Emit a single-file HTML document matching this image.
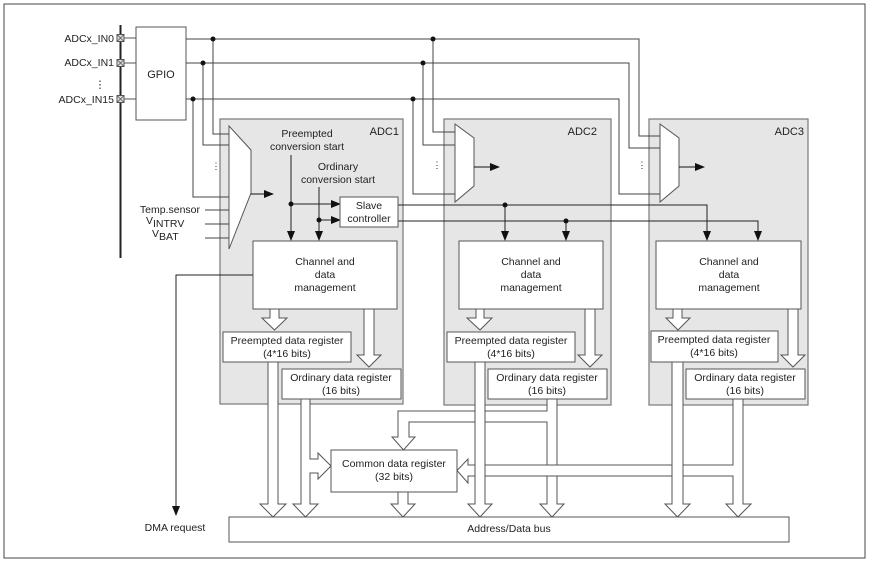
<!DOCTYPE html>
<html><head><meta charset="utf-8"><style>
html,body{margin:0;padding:0;background:#fff;}
svg{display:block;font-family:"Liberation Sans",sans-serif;}
text{font-size:10.5px;fill:#222;}
</style></head><body>
<svg width="869" height="562" viewBox="0 0 869 562" xmlns="http://www.w3.org/2000/svg">
<defs>
<marker id="ar" markerWidth="10" markerHeight="8" refX="9" refY="4" orient="auto" markerUnits="userSpaceOnUse">
<path d="M0,0 L10,4 L0,8 z" fill="#111"/></marker>
</defs>
<rect x="4" y="4" width="861" height="554" fill="#fff" stroke="#444" stroke-width="1"/>

<!-- ADC boxes -->
<g fill="#e6e6e6" stroke="#777" stroke-width="1.2">
<rect x="220" y="119" width="183" height="285"/>
<rect x="444" y="119" width="167" height="286"/>
<rect x="649" y="119" width="159" height="286"/>
</g>
<text x="399" y="135" text-anchor="end" style="font-size:11px">ADC1</text>
<text x="597" y="135" text-anchor="end" style="font-size:11px">ADC2</text>
<text x="804" y="135" text-anchor="end" style="font-size:11px">ADC3</text>

<!-- input bus -->
<line x1="120.5" y1="25" x2="120.5" y2="258" stroke="#222" stroke-width="2"/>
<g stroke="#555" stroke-width="1" fill="#ddd">
<rect x="117" y="34.5" width="7" height="7"/>
<rect x="117" y="59.5" width="7" height="7"/>
<rect x="117" y="95.5" width="7" height="7"/>
</g>
<g stroke="#555" stroke-width="0.8">
<path d="M117,34.5 l7,7 M124,34.5 l-7,7 M117,59.5 l7,7 M124,59.5 l-7,7 M117,95.5 l7,7 M124,95.5 l-7,7"/>
</g>
<text x="114" y="42" text-anchor="end">ADCx_IN0</text>
<text x="114" y="66" text-anchor="end">ADCx_IN1</text>
<text x="100" y="88" text-anchor="middle">⋮</text>
<text x="114" y="103" text-anchor="end">ADCx_IN15</text>
<g stroke="#555" stroke-width="1" fill="none">
<path d="M124,38 H136 M124,63 H136 M124,99 H136"/>
</g>
<rect x="136" y="27" width="50" height="93" fill="#fff" stroke="#555"/>
<text x="161" y="78" text-anchor="middle" style="font-size:11px">GPIO</text>

<!-- input lines -->
<g stroke="#444" stroke-width="1" fill="none">
<path d="M186,39 H639 V136 H660"/>
<path d="M186,63 H629 V148 H660"/>
<path d="M186,99 H619 V194 H660"/>
<path d="M213,39 V134 H229"/>
<path d="M203,63 V145 H229"/>
<path d="M193,99 V197 H229"/>
<path d="M433,39 V132 H455"/>
<path d="M423,63 V145 H455"/>
<path d="M413,99 V194 H455"/>
<path d="M205,210 H229 M205,224 H229 M205,238 H229"/>
</g>
<g fill="#111">
<circle cx="213" cy="39" r="2.5"/><circle cx="203" cy="63" r="2.5"/><circle cx="193" cy="99" r="2.5"/>
<circle cx="433" cy="39" r="2.5"/><circle cx="423" cy="63" r="2.5"/><circle cx="413" cy="99" r="2.5"/>
</g>
<text x="216" y="169" text-anchor="middle" style="font-size:9px">⋮</text>
<text x="437" y="168" text-anchor="middle" style="font-size:9px">⋮</text>
<text x="642" y="168" text-anchor="middle" style="font-size:9px">⋮</text>

<!-- muxes -->
<g fill="#fff" stroke="#555" stroke-width="1">
<polygon points="229,126 251,150 251,193 229,249"/>
<polygon points="455,124 474,138 474,186 455,202"/>
<polygon points="660,124 679,138 679,186 660,202"/>
</g>
<g stroke="#111" stroke-width="1">
<line x1="251" y1="194" x2="273" y2="194" marker-end="url(#ar)"/>
<line x1="474" y1="167" x2="499" y2="167" marker-end="url(#ar)"/>
<line x1="679" y1="167" x2="704" y2="167" marker-end="url(#ar)"/>
</g>

<text x="200" y="213" text-anchor="end">Temp.sensor</text>
<text x="146" y="224">V<tspan dy="3">INTRV</tspan></text>
<text x="152" y="237">V<tspan dy="3">BAT</tspan></text>

<text x="307" y="137" text-anchor="middle">Preempted</text>
<text x="307" y="150" text-anchor="middle">conversion start</text>
<text x="338" y="170" text-anchor="middle">Ordinary</text>
<text x="338" y="183" text-anchor="middle">conversion start</text>

<!-- trigger lines -->
<g stroke="#222" stroke-width="1" fill="none">
<line x1="291" y1="155" x2="291" y2="240" marker-end="url(#ar)"/>
<line x1="319" y1="187" x2="319" y2="240" marker-end="url(#ar)"/>
<line x1="291" y1="204" x2="340" y2="204" marker-end="url(#ar)"/>
<line x1="319" y1="220" x2="340" y2="220" marker-end="url(#ar)"/>
<path d="M398,205 H707 V240" marker-end="url(#ar)"/>
<path d="M398,221 H758 V240" marker-end="url(#ar)"/>
<line x1="505" y1="205" x2="505" y2="240" marker-end="url(#ar)"/>
<line x1="566" y1="221" x2="566" y2="240" marker-end="url(#ar)"/>
<path d="M253,275 H176 V515" marker-end="url(#ar)"/>
</g>
<g fill="#111">
<circle cx="291" cy="204" r="2.5"/><circle cx="319" cy="220" r="2.5"/>
<circle cx="505" cy="205" r="2.5"/><circle cx="566" cy="221" r="2.5"/>
</g>
<rect x="340" y="197" width="58" height="30" fill="#fff" stroke="#555"/>
<text x="369" y="209" text-anchor="middle">Slave</text>
<text x="369" y="222" text-anchor="middle">controller</text>

<!-- channel boxes -->
<g fill="#fff" stroke="#555" stroke-width="1">
<rect x="253" y="241" width="144" height="68"/>
<rect x="459" y="241" width="144" height="68"/>
<rect x="656" y="241" width="145" height="68"/>
</g>
<g text-anchor="middle">
<text x="325" y="265">Channel and</text><text x="325" y="278">data</text><text x="325" y="291">management</text>
<text x="531" y="265">Channel and</text><text x="531" y="278">data</text><text x="531" y="291">management</text>
<text x="729" y="265">Channel and</text><text x="729" y="278">data</text><text x="729" y="291">management</text>
</g>

<!-- hollow arrows -->
<g fill="#fff" stroke="#555" stroke-width="1">
<!-- branches (drawn first) -->
<polygon points="557,399 557,504 564,504 552,517 540,504 547,504 547,422 409,422 409,437 415,437 403.5,450 392,437 398,437 398,411 547,411 547,399"/>
<polygon points="733,399 743,399 743,504 751,504 738,517 726,504 733,504 733,476 468,476 468,483 457,470.5 468,459 468,465 733,465"/>
<polygon points="301,399 310,399 310,459 318,459 318,453 331,466 318,479 318,473 310,473 310,504 318,504 305.5,517 293,504 301,504"/>
<!-- short arrows -->
<polygon points="270,309 279,309 279,318 287,318 274.5,330 262,318 270,318"/>
<polygon points="364,309 374,309 374,355 381,355 369,367 357,355 364,355"/>
<polygon points="476,309 484,309 484,318 492,318 480,330 467,318 476,318"/>
<polygon points="585,309 595,309 595,355 602,355 590,367 578,355 585,355"/>
<polygon points="673,309 682,309 682,318 690,318 678,330 666,318 673,318"/>
<polygon points="788,309 798,309 798,355 805,355 793,367 781,355 788,355"/>
<!-- preempted to bus -->
<polygon points="268,362 278,362 278,504 286,504 273,517 260,504 268,504"/>
<polygon points="475,362 485,362 485,504 492,504 480,517 468,504 475,504"/>
<polygon points="672,362 683,362 683,504 690,504 677.5,517 665,504 672,504"/>
<polygon points="398,492 408,492 408,504 415,504 403,517 391,504 398,504"/>
</g>

<!-- registers -->
<g fill="#fff" stroke="#555" stroke-width="1">
<rect x="223" y="332" width="128" height="30"/>
<rect x="282" y="369" width="119" height="30"/>
<rect x="447" y="332" width="128" height="30"/>
<rect x="488" y="369" width="119" height="30"/>
<rect x="651" y="331" width="127" height="31"/>
<rect x="686" y="369" width="119" height="30"/>
<rect x="331" y="450" width="126" height="42"/>
<rect x="229" y="517" width="560" height="25"/>
</g>
<g text-anchor="middle">
<text x="287" y="344">Preempted data register</text><text x="287" y="357">(4*16 bits)</text>
<text x="341" y="381">Ordinary data register</text><text x="341" y="394">(16 bits)</text>
<text x="511" y="344">Preempted data register</text><text x="511" y="357">(4*16 bits)</text>
<text x="547" y="381">Ordinary data register</text><text x="547" y="394">(16 bits)</text>
<text x="714" y="343">Preempted data register</text><text x="714" y="356">(4*16 bits)</text>
<text x="745" y="381">Ordinary data register</text><text x="745" y="394">(16 bits)</text>
<text x="394" y="467">Common data register</text><text x="394" y="480">(32 bits)</text>
<text x="509" y="532">Address/Data bus</text>
<text x="175" y="531">DMA request</text>
</g>
</svg>
</body></html>
